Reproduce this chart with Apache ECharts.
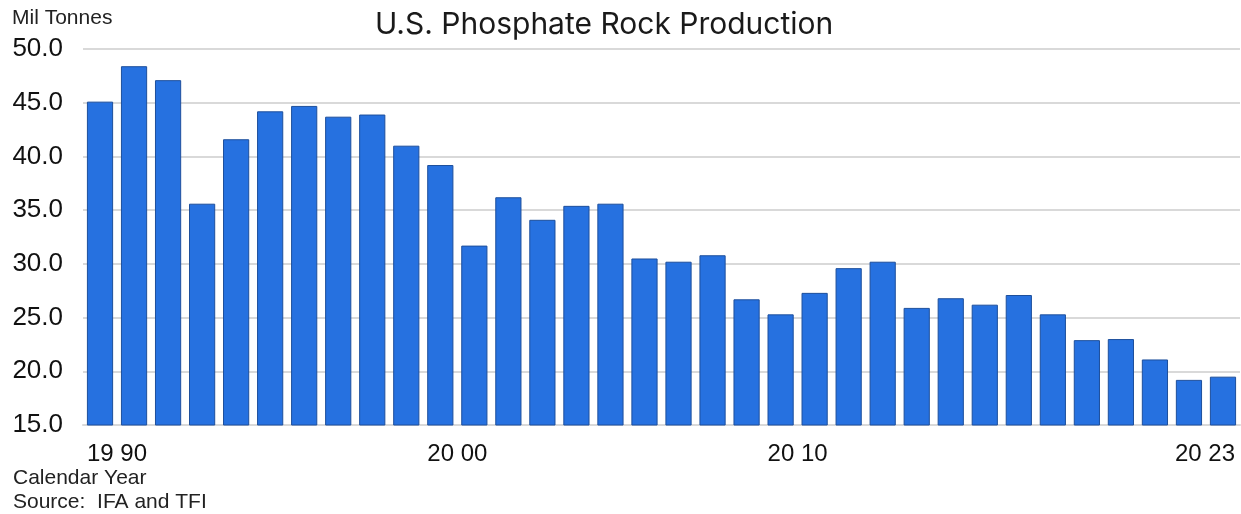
<!DOCTYPE html>
<html>
<head>
<meta charset="utf-8">
<script src="https://cdn.jsdelivr.net/npm/echarts@6/dist/echarts.min.js"></script>
<style>
  html, body { margin: 0; padding: 0; background: #fff; }
  #chart { width: 1241px; height: 514px; }
</style>
</head>
<body>
<div id="chart"></div>
<script>
// data
const years = ['1990','1991','1992','1993','1994','1995','1996','1997','1998','1999',
  '2000','2001','2002','2003','2004','2005','2006','2007','2008','2009',
  '2010','2011','2012','2013','2014','2015','2016','2017','2018','2019',
  '2020','2021','2022','2023']
const production = [45.1, 48.4, 47.1, 35.6, 41.6, 44.2, 44.7, 43.7, 43.9, 41.0,
  39.2, 31.7, 36.2, 34.1, 35.4, 35.6, 30.5, 30.2, 30.8, 26.7,
  25.3, 27.3, 29.6, 30.2, 25.9, 26.8, 26.2, 27.1, 25.3, 22.9,
  23.0, 21.1, 19.2, 19.5]
const xTickIndex = [0, 10, 20, 33]
const xTickLabels = ['19 90', '20 00', '20 10', '20 23']
const yMin = 15, yMax = 50, yStep = 5

const labelFont = '"Liberation Sans", Arial, sans-serif'
const chart = echarts.init(document.getElementById('chart'))

chart.setOption({
  backgroundColor: '#fff',
  animation: false,
  title: {
    text: 'U.S. Phosphate Rock Production',
    left: 370, top: 5,
    textStyle: { fontFamily: 'Inter, "Noto Sans", sans-serif', fontSize: 30, fontWeight: 'normal', color: '#1a1a1a' }
  },
  graphic: [
    { type: 'text', left: 12, top: 8, style: { text: 'Mil Tonnes', font: '21px ' + labelFont, fill: '#222' } },
    { type: 'text', left: 13, top: 468, style: { text: 'Calendar Year', font: '21px ' + labelFont, fill: '#222' } },
    { type: 'text', left: 13, top: 492, style: { text: 'Source:  IFA and TFI', font: '21px ' + labelFont, fill: '#222' } }
  ],
  grid: { left: 83, right: 1, top: 49, bottom: 89 },
  xAxis: {
    type: 'category',
    data: years,
    axisTick: { show: false },
    axisLine: { lineStyle: { color: '#d9d9d9', width: 2 } },
    axisLabel: {
      interval: 0,
      margin: 17,
      fontFamily: labelFont,
      fontSize: 24,
      color: '#111',
      formatter: (v, i) => {
        const k = xTickIndex.indexOf(i)
        if (k < 0) return ''
        if (k === xTickIndex.length - 1) return '{r|' + xTickLabels[k] + '}'
        return '{l|' + xTickLabels[k] + '}'
      },
      rich: {
        l: { fontSize: 24, color: '#111', fontFamily: labelFont, padding: [0, 0, 0, 34] },
        r: { fontSize: 24, color: '#111', fontFamily: labelFont, padding: [0, 36, 0, 0] }
      }
    }
  },
  yAxis: {
    type: 'value',
    min: yMin, max: yMax, interval: yStep,
    axisLine: { show: false },
    axisTick: { show: false },
    splitLine: { lineStyle: { color: '#d9d9d9', width: 2 } },
    axisLabel: {
      margin: 20,
      fontFamily: labelFont,
      fontSize: 26,
      color: '#111',
      formatter: v => v.toFixed(1)
    }
  },
  series: [{
    type: 'bar',
    data: production,
    barCategoryGap: '23%',
    itemStyle: { color: '#2671e0', borderColor: '#1d4f9c', borderWidth: 1 }
  }]
})
</script>
</body>
</html>
